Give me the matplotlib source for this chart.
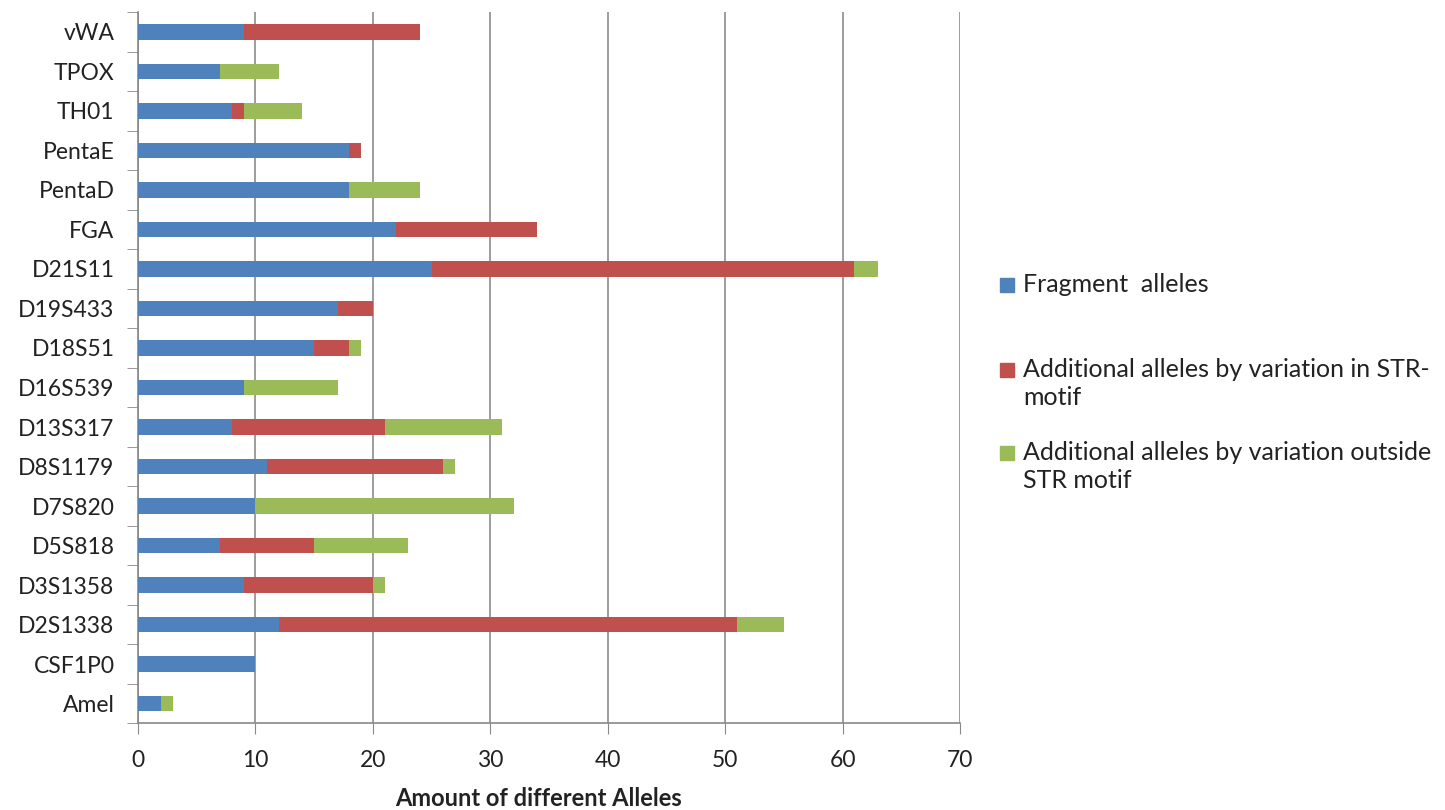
import numpy as np
import matplotlib
matplotlib.use("Agg")
import matplotlib.pyplot as plt
from matplotlib.patches import Rectangle

plt.rcParams['font.family'] = ['Lato', 'DejaVu Sans']

# loci, bottom to top as drawn
loci = ["Amel", "CSF1P0", "D2S1338", "D3S1358", "D5S818", "D7S820",
        "D8S1179", "D13S317", "D16S539", "D18S51", "D19S433", "D21S11",
        "FGA", "PentaD", "PentaE", "TH01", "TPOX", "vWA"]
fragment = [2, 10, 12, 9, 7, 10, 11, 8, 9, 15, 17, 25, 22, 18, 18, 8, 7, 9]
in_motif = [0, 0, 39, 11, 8, 0, 15, 13, 0, 3, 3, 36, 12, 0, 1, 1, 0, 15]
outside_motif = [1, 0, 4, 1, 8, 22, 1, 10, 8, 1, 0, 2, 0, 6, 0, 5, 5, 0]

labels = ["Fragment  alleles",
          "Additional alleles by variation in STR-\nmotif",
          "Additional alleles by variation outside\nSTR motif"]
colors = ["#4F81BD", "#C0504D", "#9BBB59"]

fig = plt.figure(figsize=(14.45, 8.1), dpi=100)
ax = fig.add_axes([0.0955, 0.107, 0.569, 0.878])

y = np.arange(len(loci))
left = np.zeros(len(loci))
for vals, col in zip([fragment, in_motif, outside_motif], colors):
    ax.barh(y, vals, left=left, height=0.4, color=col, zorder=3)
    left += np.array(vals)

ax.set_xlim(0, 70)
ax.set_ylim(-0.5, len(loci) - 0.5)
ax.set_xticks(range(0, 71, 10))
ax.set_yticks(y)
ax.set_yticklabels(loci)
ax.set_yticks(np.arange(-0.5, len(loci), 1), minor=True)
ax.tick_params(axis='y', which='major', length=0, labelsize=16.5, pad=17,
               labelcolor='#222222')
ax.tick_params(axis='y', which='minor', length=8, color='#888888')
ax.tick_params(axis='x', length=8, color='#888888', labelsize=16.5, pad=11,
               labelcolor='#222222')
ax.xaxis.grid(True, color='#8c8c8c', linewidth=1.2, zorder=0)
for s in ['top', 'right']:
    ax.spines[s].set_visible(False)
for s in ['left', 'bottom']:
    ax.spines[s].set_color('#888888')
    ax.spines[s].set_linewidth(1.2)

ax.set_xlabel("Amount of different Alleles", fontsize=17, fontweight='bold',
              color='#222222')
ax.xaxis.set_label_coords(0.487, -0.09)

# legend drawn by hand so that the swatch lines up with the first text line
W, H = 1445, 810
legend_y = [285, 370, 453]
for lab, col, ly in zip(labels, colors, legend_y):
    fig.patches.append(Rectangle((1000 / W, 1 - (ly + 7) / H), 14 / W, 14 / H,
                                 transform=fig.transFigure, color=col))
    fig.text(1023 / W, 1 - (ly - 12) / H, lab, fontsize=18, va='top',
             ha='left', linespacing=1.28, color='#222222')

fig.savefig("out.png", dpi=100)
